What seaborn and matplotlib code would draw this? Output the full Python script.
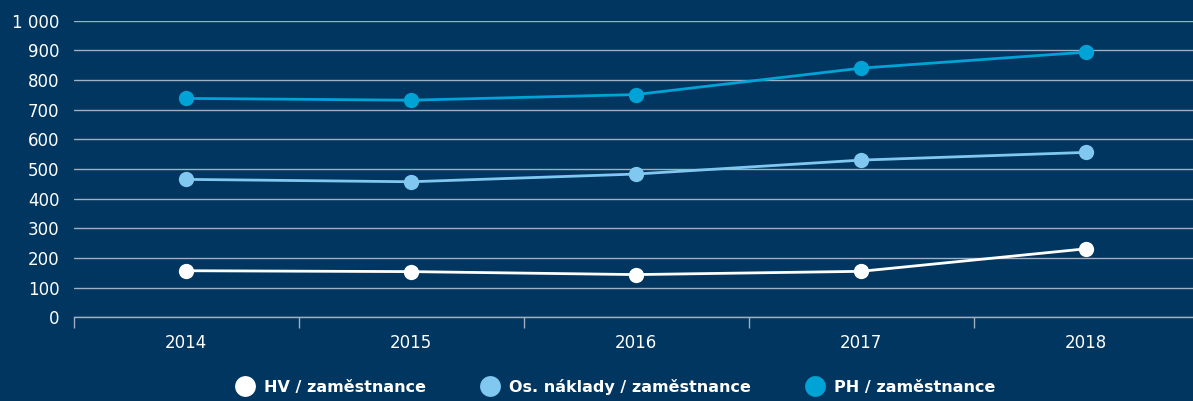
import matplotlib
matplotlib.use("Agg")
import matplotlib.pyplot as plt
import seaborn as sns
import pandas as pd
from matplotlib.lines import Line2D

years = ["2014", "2015", "2016", "2017", "2018"]
hv = [157, 154, 144, 155, 231]
os_naklady = [465, 457, 483, 530, 556]
ph = [738, 732, 751, 840, 894]
series_names = ["HV / zaměstnance", "Os. náklady / zaměstnance", "PH / zaměstnance"]
y_ticks = [0, 100, 200, 300, 400, 500, 600, 700, 800, 900, 1000]
y_tick_labels = ["0", "100", "200", "300", "400", "500", "600", "700", "800", "900", "1 000"]

bg = "#00365f"
colors = ["#ffffff", "#80c8f0", "#00a3d6"]
grid_c = "#9fb0c2"

df = pd.DataFrame({
    "year": years * 3,
    "value": hv + os_naklady + ph,
    "series": [series_names[0]] * 5 + [series_names[1]] * 5 + [series_names[2]] * 5,
})
df["pos"] = [years.index(y) for y in df["year"]]

sns.set_theme(style="white")
plt.rcParams["font.family"] = ["DejaVu Sans"]

fig = plt.figure(figsize=(11.93, 4.01), dpi=100, facecolor=bg)
ax = fig.add_axes([73.5 / 1193, 1 - 317.3 / 401, 1125 / 1193, (317.3 - 20.7) / 401])
ax.set_facecolor(bg)

sns.lineplot(data=df, x="pos", y="value", hue="series", palette=colors,
             marker="o", markersize=11, markeredgewidth=0, linewidth=2.0,
             ax=ax, legend=False, zorder=3)

ax.set_xlim(-0.5, 4.5)
ax.set_ylim(0, 1000)
ax.set_yticks(y_ticks)
ax.set_yticklabels(y_tick_labels)
ax.set_xticks(range(len(years)))
ax.set_xticklabels(years)
ax.set_xticks([i - 0.5 for i in range(len(years) + 1)], minor=True)
ax.tick_params(axis="x", which="major", bottom=False, length=0, pad=12, labelsize=12, colors="white")
ax.tick_params(axis="x", which="minor", bottom=True, length=8, width=1, color=grid_c, direction="out")
ax.tick_params(axis="y", length=0, pad=10, labelsize=12, colors="white")
ax.set_xlabel("")
ax.set_ylabel("")

ax.yaxis.grid(True, color=grid_c, linewidth=1.0)
ax.set_axisbelow(True)
for s in ["top", "right", "left"]:
    ax.spines[s].set_visible(False)
ax.spines["bottom"].set_color(grid_c)
ax.spines["bottom"].set_linewidth(1.0)
ax.spines["bottom"].set_zorder(1)

handles = [Line2D([0], [0], marker="o", linestyle="none", markersize=15,
                  markerfacecolor=c, markeredgewidth=0) for c in colors]
leg = fig.legend(handles, series_names, loc="center", bbox_to_anchor=(612 / 1193, 1 - 387 / 401),
                 ncol=3, frameon=False, handletextpad=0.2, columnspacing=3.0,
                 prop={"weight": "bold", "size": 11.5})
for t in leg.get_texts():
    t.set_color("white")

fig.savefig("out.png", dpi=100, facecolor=bg)
